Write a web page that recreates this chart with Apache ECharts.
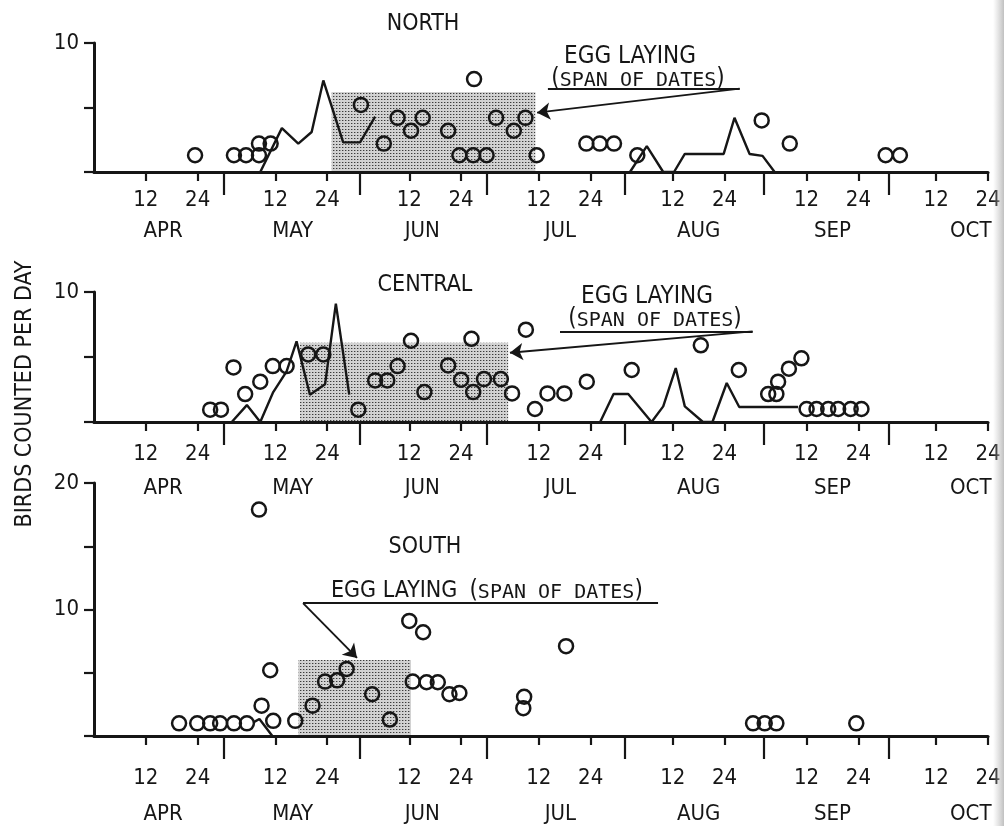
<!DOCTYPE html>
<html>
<head>
<meta charset="utf-8">
<title>Birds counted per day</title>
<script src="https://cdn.jsdelivr.net/npm/echarts@6/dist/echarts.min.js"></script>
<style>
  html, body { margin: 0; padding: 0; background: #fff; }
  #chart { width: 1004px; height: 826px; }
</style>
</head>
<body>
<div id="chart"></div>
<script>
// x = day counted from 1 April (Apr 1 = 1, May 1 = 31, Jun 1 = 62, Jul 1 = 92 ...)
const dayTicks = [12, 24, 42, 54, 73, 85, 103, 115, 134, 146, 165, 177, 195, 207];
const dayTickLabels = ['12', '24', '12', '24', '12', '24', '12', '24', '12', '24', '12', '24', '12', '24'];
const monthTicks = [30, 61.5, 91, 123, 155, 184];
const monthLabelDays = [16, 46, 76, 108, 140, 171, 203];
const monthLabels = ['APR', 'MAY', 'JUN', 'JUL', 'AUG', 'SEP', 'OCT'];

// NORTH
const northCounts = [
  [23.4, 1.3], [32.4, 1.3], [35.2, 1.3], [38.2, 1.3], [38.2, 2.2], [40.9, 2.2],
  [61.8, 5.2], [67.1, 2.2], [70.3, 4.2], [73.4, 3.2], [76.1, 4.2], [82, 3.2],
  [84.6, 1.3], [87.8, 1.3], [88, 7.2], [90.9, 1.3], [93.1, 4.2], [97.2, 3.2],
  [99.9, 4.2], [102.5, 1.3], [114, 2.2], [117.1, 2.2], [120.4, 2.2], [125.8, 1.3],
  [154.6, 4.0], [161.1, 2.2], [183.3, 1.3], [186.6, 1.3]
];
const northLineA = [[38.5, 0], [43.5, 3.4], [47.3, 2.2], [50.4, 3.1], [53.1, 7.1], [57.7, 2.3], [61.6, 2.3], [65.1, 4.3]];
const northLineB = [[124.1, 0], [128, 2.0], [131.8, 0], [134.3, 0], [136.8, 1.4], [145.8, 1.4], [148.3, 4.2], [151.8, 1.4], [154.8, 1.25], [157.6, 0]];
const northEgg = [55, 102.2, 6.2];

// CENTRAL
const centralCounts = [
  [26.9, 0.95], [29.4, 0.95], [32.3, 4.2], [35, 2.15], [38.5, 3.1], [41.4, 4.3],
  [44.6, 4.3], [49.6, 5.2], [53.1, 5.2], [61.2, 0.95], [65.1, 3.2], [67.9, 3.2],
  [70.3, 4.3], [73.4, 6.25], [76.5, 2.3], [82, 4.35], [85, 3.25], [87.4, 6.4],
  [87.8, 2.3], [90.3, 3.3], [94.2, 3.3], [96.8, 2.2], [100, 7.1], [102.1, 1.0],
  [105, 2.2], [108.9, 2.2], [114.1, 3.1], [124.5, 4.0], [140.5, 5.9], [149.3, 4.0],
  [156.1, 2.15], [158, 2.15], [158.4, 3.1], [160.9, 4.1], [163.8, 4.9],
  [165, 1], [167.3, 1], [170, 1], [172.3, 1], [175.2, 1], [177.7, 1]
];
const centralLineA = [[31.9, 0], [35.4, 1.3], [38.5, 0], [41.5, 2.3], [44.6, 3.9], [46.9, 6.2], [50, 2.1], [53.5, 2.9], [56, 9.1], [59.1, 2.1]];
const centralLineB = [[117.2, 0], [120.3, 2.15], [123.7, 2.15], [129.1, 0], [131.8, 1.2], [134.7, 4.15], [136.8, 1.2], [141, 0], [143.2, 0], [146.5, 3.0], [149.4, 1.15], [163, 1.15]];
const centralEgg = [47.7, 95.9, 6.1];

// SOUTH
const southCounts = [
  [19.7, 1], [23.9, 1], [26.9, 1], [29.2, 1], [32.4, 1], [35.4, 1], [38.8, 2.4],
  [38.2, 17.9], [40.8, 5.2], [41.5, 1.2], [46.6, 1.2], [50.6, 2.4], [53.5, 4.3],
  [56.3, 4.4], [58.5, 5.3], [64.4, 3.3], [68.5, 1.3], [73, 9.1], [73.8, 4.3],
  [76.2, 8.2], [77, 4.25], [79.6, 4.25], [82.3, 3.3], [84.6, 3.4], [99.6, 3.1],
  [99.4, 2.2], [109.3, 7.1], [152.6, 1], [155.3, 1], [158, 1], [176.5, 1]
];
const southLineA = [[37, 1.1], [38.3, 1.35], [41.3, 0]];
const southEgg = [47.3, 73.4, 6.0];

const ink = '#161616';
const font = "'Liberation Sans Narrow', 'DejaVu Sans Condensed', sans-serif";
const monoFont = "'DejaVu Sans Mono', monospace";

// dotted screen used for the egg laying spans
function stipple() {
  const c = document.createElement('canvas');
  c.width = 3; c.height = 3;
  const ctx = c.getContext('2d');
  ctx.fillStyle = '#d2d2d2';
  ctx.fillRect(0, 0, 3, 3);
  ctx.fillStyle = '#3c3c3c';
  ctx.fillRect(0, 0, 1, 1);
  ctx.fillStyle = '#9a9a9a';
  ctx.fillRect(1, 0, 1, 1);
  return c;
}
const dots = { image: stipple(), repeat: 'repeat' };

const panels = [
  { top: 43, height: 129, yMax: 10, yLabels: [10], dayMargin: 17, monthMargin: 48,
    counts: northCounts, lines: [northLineA, northLineB], egg: northEgg,
    arrow: [[149.5, 6.46], [102.6, 4.6]], underline: [[105.1, 6.46], [149.5, 6.46]] },
  { top: 292, height: 130, yMax: 10, yLabels: [10], dayMargin: 21, monthMargin: 55,
    counts: centralCounts, lines: [centralLineA, centralLineB], egg: centralEgg,
    arrow: [[152.5, 6.97], [96.3, 5.33]], underline: [[107.9, 6.97], [152.5, 6.97]] },
  { top: 483, height: 253, yMax: 20, yLabels: [10, 20], dayMargin: 31, monthMargin: 67,
    counts: southCounts, lines: [southLineA], egg: southEgg,
    arrow: [[48.4, 10.5], [60.9, 6.17]], underline: [[48.4, 10.5], [130.6, 10.5]] }
];

const grid = [], xAxis = [], yAxis = [], series = [];
panels.forEach((p, i) => {
  grid.push({ left: 94, right: 16, top: p.top, height: p.height });
  const label = { fontFamily: font, fontSize: 22, color: ink };
  xAxis.push({
    type: 'value', gridIndex: i, min: 0, max: 207, position: 'bottom', z: 10,
    axisLine: { show: true, onZero: false, lineStyle: { color: ink, width: 3 } },
    axisTick: { show: true, customValues: dayTicks, length: 9, lineStyle: { color: ink, width: 2.2 } },
    axisLabel: Object.assign({ show: true, customValues: dayTicks, margin: p.dayMargin,
      formatter: v => dayTickLabels[dayTicks.indexOf(v)] || '' }, label),
    splitLine: { show: false }
  });
  xAxis.push({
    type: 'value', gridIndex: i, min: 0, max: 207, position: 'bottom', z: 10,
    axisLine: { show: false, onZero: false },
    axisTick: { show: true, customValues: monthTicks, length: 23, lineStyle: { color: ink, width: 2.2 } },
    axisLabel: Object.assign({ show: true, customValues: monthLabelDays, margin: p.monthMargin,
      formatter: v => monthLabels[monthLabelDays.indexOf(v)] || '' }, label),
    splitLine: { show: false }
  });
  yAxis.push({
    type: 'value', gridIndex: i, min: 0, max: p.yMax, interval: 5, z: 10,
    axisLine: { show: true, lineStyle: { color: ink, width: 3 } },
    axisTick: { show: true, length: 10, lineStyle: { color: ink, width: 2.2 } },
    axisLabel: Object.assign({ show: true, customValues: p.yLabels, margin: 15 }, label),
    splitLine: { show: false }
  });
  series.push({
    type: 'scatter', xAxisIndex: 2 * i, yAxisIndex: i, data: [], z: 1, silent: true,
    markArea: {
      silent: true,
      itemStyle: { color: dots },
      data: [[{ coord: [p.egg[0], 0] }, { coord: [p.egg[1], p.egg[2]] }]]
    },
    markLine: {
      silent: true, animation: false,
      symbolSize: 13,
      label: { show: false },
      lineStyle: { color: ink, width: 1.9, type: 'solid' },
      data: [
        [{ coord: p.underline[0], symbol: 'none' }, { coord: p.underline[1], symbol: 'none' }],
        [{ coord: p.arrow[0], symbol: 'none' }, { coord: p.arrow[1], symbol: 'arrow' }]
      ]
    }
  });
  p.lines.forEach(seg => {
    series.push({
      type: 'line', xAxisIndex: 2 * i, yAxisIndex: i, data: seg, z: 3,
      symbol: 'none', lineStyle: { color: ink, width: 2.4 }
    });
  });
  series.push({
    type: 'scatter', xAxisIndex: 2 * i, yAxisIndex: i, data: p.counts, z: 4,
    symbol: 'circle', symbolSize: 14,
    itemStyle: { color: 'rgba(0,0,0,0)', borderColor: ink, borderWidth: 2.5, opacity: 1 }
  });
});

function txt(text, x, y, size, align) {
  return { type: 'text', x: x, y: y, z: 20,
    style: { text: text, font: size + 'px ' + font, fill: ink, textAlign: align || 'center', textVerticalAlign: 'middle' } };
}
function spanText(x, y, align, prefix) {
  return { type: 'text', x: x, y: y, z: 20,
    style: {
      text: (prefix ? '{a|' + prefix + '}{g| }' : '') + '{p|(}{s|SPAN OF DATES}{p|)}',
      textAlign: align, textVerticalAlign: 'middle', fill: ink,
      rich: {
        a: { fontFamily: font, fontSize: 23, fill: ink, verticalAlign: 'bottom', lineHeight: 26 },
        g: { fontFamily: monoFont, fontSize: 20, fill: ink, verticalAlign: 'bottom', lineHeight: 26 },
        p: { fontFamily: font, fontSize: 24, fill: ink, verticalAlign: 'bottom', lineHeight: 26 },
        s: { fontFamily: monoFont, fontSize: 20, fill: ink, verticalAlign: 'bottom', lineHeight: 24 }
      }
    } };
}

const graphic = [
  txt('NORTH', 423, 24, 23),
  txt('CENTRAL', 425, 285, 23),
  txt('SOUTH', 425, 547, 23),
  txt('EGG LAYING', 630, 57, 24),
  spanText(638, 78, 'center'),
  txt('EGG LAYING', 647, 297, 24),
  spanText(655, 318, 'center'),
  spanText(331, 590, 'left', 'EGG LAYING'),
  { type: 'text', x: 25, y: 394, rotation: Math.PI / 2, z: 20,
    style: { text: 'BIRDS COUNTED PER DAY', font: '23px ' + font, fill: ink, textAlign: 'center', textVerticalAlign: 'middle' } },
  { type: 'rect', z: 30, silent: true, shape: { x: 993, y: 0, width: 11, height: 826 },
    style: { fill: new echarts.graphic.LinearGradient(0, 0, 1, 0, [
      { offset: 0, color: 'rgba(200,200,200,0)' }, { offset: 1, color: 'rgba(185,185,185,0.9)' }]) } }
];

const chart = echarts.init(document.getElementById('chart'), null, { renderer: 'canvas' });
chart.setOption({
  animation: false,
  backgroundColor: '#fff',
  grid: grid,
  xAxis: xAxis,
  yAxis: yAxis,
  series: series,
  graphic: graphic
});
</script>
</body>
</html>
